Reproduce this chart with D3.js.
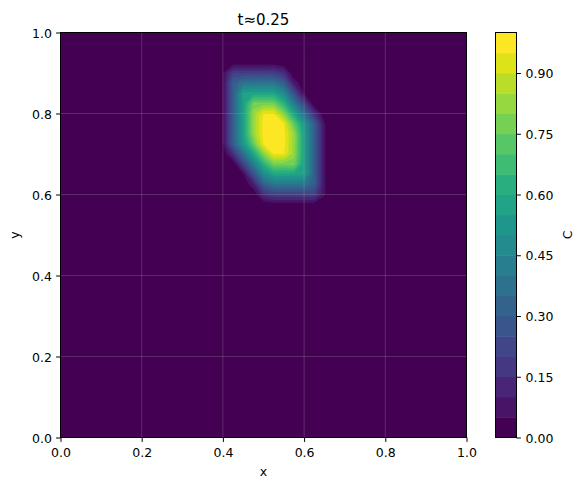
<!DOCTYPE html>
<html><head><meta charset="utf-8">
<script src="https://cdn.jsdelivr.net/npm/d3@7"></script>
<style>
body{margin:0;background:#fff}
text{font-family:"DejaVu Sans",sans-serif;fill:#000}
</style>
</head><body>
<svg id="chart" width="585" height="490"></svg>
<script>
// ---- data ----
const titleText = "t\u22480.25";
const xLabel = "x", yLabel = "y", cLabel = "C";
const xNodes = [0.375,0.4,0.425,0.45,0.475,0.5,0.525,0.55,0.575,0.6,0.625,0.65,0.675];
const yNodes = [0.95,0.925,0.9,0.875,0.85,0.825,0.8,0.775,0.75,0.725,0.7,0.675,0.65,0.625,0.6,0.575,0.55];
const cRows = [
 [0,0,0,0,0,0,0,0,0,0,0,0,0],
 [0,0.013,0.013,0.013,0.013,0.013,0.013,0,0,0,0,0,0],
 [0,0.045,0.202,0.202,0.202,0.202,0.202,0.146,0,0,0,0,0],
 [0,0.045,0.307,0.391,0.391,0.391,0.391,0.309,0.094,0,0,0,0],
 [0,0.045,0.307,0.564,0.580,0.580,0.580,0.471,0.256,0.040,0,0,0],
 [0,0.045,0.307,0.564,0.769,0.769,0.769,0.633,0.418,0.202,0,0,0],
 [0,0.045,0.307,0.564,0.822,0.951,0.951,0.796,0.580,0.365,0.150,0,0],
 [0,0.045,0.307,0.564,0.822,0.967,0.975,0.951,0.743,0.527,0.307,0.055,0],
 [0,0.045,0.307,0.564,0.822,0.967,1.0,0.967,0.822,0.564,0.307,0.055,0],
 [0,0.045,0.307,0.527,0.743,0.951,0.975,0.967,0.822,0.564,0.307,0.055,0],
 [0,0,0.150,0.365,0.580,0.796,0.951,0.951,0.822,0.564,0.307,0.055,0],
 [0,0,0,0.202,0.418,0.633,0.769,0.769,0.769,0.564,0.307,0.055,0],
 [0,0,0,0.040,0.256,0.471,0.580,0.580,0.580,0.564,0.307,0.055,0],
 [0,0,0,0,0.094,0.309,0.391,0.391,0.391,0.391,0.307,0.055,0],
 [0,0,0,0,0,0.146,0.202,0.202,0.202,0.202,0.202,0.055,0],
 [0,0,0,0,0,0,0.013,0.013,0.013,0.013,0.013,0.013,0],
 [0,0,0,0,0,0,0,0,0,0,0,0,0]
];
const levels = [0,0.05,0.1,0.15,0.2,0.25,0.3,0.35,0.4,0.45,0.5,0.55,0.6,0.65,0.7,0.75,0.8,0.85,0.9,0.95,1.0];
const axisTicks = [0,0.2,0.4,0.6,0.8,1.0];
const cbarTicks = [0,0.15,0.30,0.45,0.60,0.75,0.90];

// ---- layout ----
const svg = d3.select("#chart");
const P = {left:60.5, right:466.5, top:32.5, bottom:437.5};
const CB = {left:495.5, right:516.5, top:32.5, bottom:437.5};
const FS = 12.5;

const x = d3.scaleLinear().domain([0,1]).range([P.left, P.right]);
const y = d3.scaleLinear().domain([0,1]).range([P.bottom, P.top]);
const nx = xNodes.length, ny = yNodes.length;
const gx = d3.scaleLinear().domain([0.5, nx-0.5]).range([xNodes[0], xNodes[nx-1]]);
const gy = d3.scaleLinear().domain([0.5, ny-0.5]).range([yNodes[0], yNodes[ny-1]]);
const nb = levels.length - 1;
const bandColor = k => d3.interpolateViridis(k/(nb-1));

svg.append("defs").append("clipPath").attr("id","pc")
  .append("rect").attr("x",P.left).attr("y",P.top)
  .attr("width",P.right-P.left).attr("height",P.bottom-P.top);

const g = svg.append("g").attr("clip-path","url(#pc)");
// lowest band fills whole field (values outside the sampled block are 0)
g.append("rect").attr("x",P.left).attr("y",P.top)
  .attr("width",P.right-P.left).attr("height",P.bottom-P.top)
  .attr("fill",bandColor(0));

const flat = cRows.flat();
const cont = d3.contours().size([nx,ny]).thresholds(levels.slice(0,-1))(flat);
const proj = d3.geoTransform({point(px,py){ this.stream.point(x(gx(px)), y(gy(py))); }});
const path = d3.geoPath(proj);
g.selectAll("path.band").data(cont).join("path")
  .attr("class","band")
  .attr("d",path)
  .attr("fill",(d,i)=>bandColor(i))
  .attr("stroke",(d,i)=>bandColor(i))
  .attr("stroke-width",0.3);

// grid
const grid = svg.append("g").attr("stroke","#b0b0b0").attr("stroke-opacity",0.3).attr("stroke-width",0.8);
axisTicks.forEach(t=>{
  grid.append("line").attr("x1",x(t)).attr("x2",x(t)).attr("y1",P.top).attr("y2",P.bottom);
  grid.append("line").attr("y1",y(t)).attr("y2",y(t)).attr("x1",P.left).attr("x2",P.right);
});

// spines
svg.append("rect").attr("x",P.left).attr("y",P.top)
  .attr("width",P.right-P.left).attr("height",P.bottom-P.top)
  .attr("fill","none").attr("stroke","#000").attr("stroke-width",1);

// x axis
const xa = svg.append("g").attr("transform",`translate(0,${P.bottom})`)
  .call(d3.axisBottom(x).tickValues(axisTicks).tickFormat(d3.format(".1f")).tickSize(4.4).tickSizeOuter(0));
xa.select(".domain").remove();
xa.selectAll(".tick line").attr("stroke","#000").attr("stroke-width",1);
xa.selectAll(".tick text").attr("y",19.5).attr("dy",0).attr("font-size",FS)
  .attr("font-family","DejaVu Sans").attr("fill","#000");

// y axis
const ya = svg.append("g").attr("transform",`translate(${P.left},0)`)
  .call(d3.axisLeft(y).tickValues(axisTicks).tickFormat(d3.format(".1f")).tickSize(4.4).tickSizeOuter(0));
ya.select(".domain").remove();
ya.selectAll(".tick line").attr("stroke","#000").attr("stroke-width",1);
ya.selectAll(".tick text").attr("x",-8.5).attr("dy","0.36em").attr("font-size",FS)
  .attr("font-family","DejaVu Sans").attr("fill","#000");

// labels
svg.append("text").attr("x",(P.left+P.right)/2).attr("y",476).attr("text-anchor","middle")
  .attr("font-size",FS).text(xLabel);
svg.append("text").attr("transform",`translate(19,${(P.top+P.bottom)/2}) rotate(-90)`)
  .attr("text-anchor","middle").attr("font-size",FS).text(yLabel);
svg.append("text").attr("x",(P.left+P.right)/2).attr("y",24.5).attr("text-anchor","middle")
  .attr("font-size",15).text(titleText);

// colorbar
const cy = d3.scaleLinear().domain([levels[0],levels[nb]]).range([CB.bottom, CB.top]);
svg.append("g").selectAll("rect").data(d3.range(nb)).join("rect")
  .attr("x",CB.left).attr("width",CB.right-CB.left)
  .attr("y",k=>cy(levels[k+1])).attr("height",k=>cy(levels[k])-cy(levels[k+1])+0.5)
  .attr("fill",k=>bandColor(k));
svg.append("rect").attr("x",CB.left).attr("y",CB.top)
  .attr("width",CB.right-CB.left).attr("height",CB.bottom-CB.top)
  .attr("fill","none").attr("stroke","#000").attr("stroke-width",1);
const ca = svg.append("g").attr("transform",`translate(${CB.right},0)`)
  .call(d3.axisRight(cy).tickValues(cbarTicks).tickFormat(d3.format(".2f")).tickSize(4.4).tickSizeOuter(0));
ca.select(".domain").remove();
ca.selectAll(".tick line").attr("stroke","#000").attr("stroke-width",1);
ca.selectAll(".tick text").attr("x",9).attr("dy","0.36em").attr("font-size",FS)
  .attr("font-family","DejaVu Sans").attr("fill","#000");
svg.append("text").attr("transform",`translate(572,${(CB.top+CB.bottom)/2}) rotate(-90)`)
  .attr("text-anchor","middle").attr("font-size",FS).text(cLabel);
</script>
</body></html>
